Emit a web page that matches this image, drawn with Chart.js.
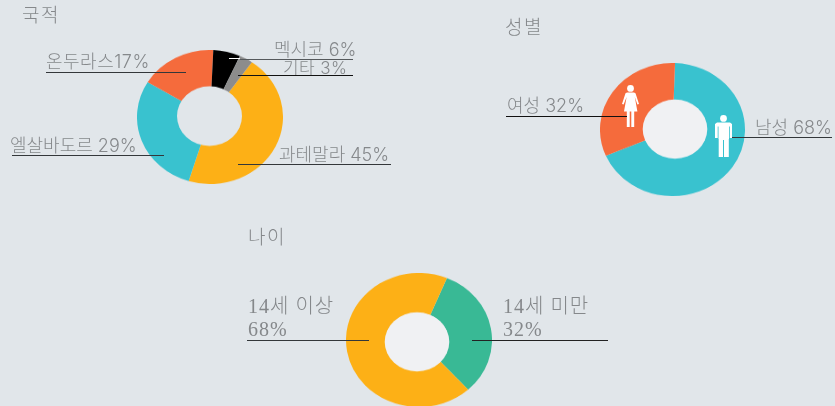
<!DOCTYPE html>
<html lang="ko">
<head>
<meta charset="utf-8">
<script src="https://cdn.jsdelivr.net/npm/chart.js@4"></script>
<style>
  html, body { margin: 0; padding: 0; width: 835px; height: 406px; overflow: hidden; background: #e1e6ea; }
  .donut { position: absolute; transform-origin: 0 0; transform: scaleY(0.918); }
  .txt { position: absolute; white-space: pre; color: #85888b; font: 300 18px/16px Inter, "Noto Sans CJK KR", sans-serif; filter: blur(0.3px); }
  .serif { font-family: "Liberation Serif", "Noto Sans CJK KR", serif; font-size: 20px; line-height: 23px; letter-spacing: 1px; }
  .title { font-size: 19px; letter-spacing: 1.5px; line-height: 22px; }
  .small { font-size: 17px; letter-spacing: 0.4px; }
  .wide { letter-spacing: 0.5px; }
  .line { position: absolute; height: 1.4px; background: #33373a; }
  svg { position: absolute; }
</style>
</head>
<body>
<div class="donut" style="left:137px;top:50px"><canvas id="nation" width="146" height="146"></canvas></div>
<div class="donut" style="left:600px;top:63px"><canvas id="gender" width="145" height="145"></canvas></div>
<div class="donut" style="left:346px;top:273px"><canvas id="age" width="146" height="146"></canvas></div>

<!-- woman -->
<svg style="left:622px;top:85px" width="17" height="42" viewBox="0 0 17 42" fill="#fff">
  <circle cx="8.5" cy="3.4" r="3.4"/>
  <path d="M5 7.5h7l1.5.8L17 19l-1.6.6-2.6-7.6 2.6 14.5H2L4.600 12 1.600 19.600 0 19l3.500-10.700z"/>
  <rect x="4.800" y="26" width="2.900" height="16"/><rect x="9.300" y="26" width="2.900" height="16"/>
</svg>
<!-- man -->
<svg style="left:715px;top:115px" width="17" height="42" viewBox="0 0 17 42" fill="#fff">
  <circle cx="8.500" cy="3.400" r="3.400"/>
  <path d="M2 7.500h13l2 1.500v14h-2.200V11.500h-.8V24h-.2v18H9V25H8v17H3.700V24H3.500V11.500h-.8V23H0V9z"/>
</svg>

<script>
const nationLabels = ["과테말라", "엘살바도르", "온두라스", "멕시코", "기타"];
const nationValues = [45, 29, 17, 6, 3];
const nationColors = ["#fdb016", "#39c2cf", "#f56b3c", "#000000", "#8c8c8c"];

const genderLabels = ["남성", "여성"];
const genderValues = [68, 32];
const genderColors = ["#39c2cf", "#f56b3c"];

const ageLabels = ["14세 미만", "14세 이상"];
const ageValues = [32, 68];
const ageColors = ["#39b995", "#fdb016"];

// Hole is drawn by hand since in the original it sits a bit off centre
const holePlugin = {
  id: "hole",
  afterDatasetsDraw(chart, args, opts) {
    const { ctx, width, height } = chart;
    ctx.save();
    ctx.fillStyle = opts.color;
    ctx.beginPath();
    ctx.arc(width / 2 + opts.dx, height / 2 + opts.dy, opts.r, 0, Math.PI * 2);
    ctx.fill();
    ctx.restore();
  }
};

function donut(id, labels, data, colors, rotation, hole) {
  return new Chart(document.getElementById(id), {
    type: "doughnut",
    data: { labels, datasets: [{ data, backgroundColor: colors, borderWidth: 0 }] },
    plugins: [holePlugin],
    options: {
      responsive: false,
      animation: false,
      rotation,
      cutout: "40%",
      layout: { padding: 0 },
      plugins: { legend: { display: false }, tooltip: { enabled: false }, hole }
    }
  });
}

donut("nation", nationLabels, nationValues, nationColors, 35, { color: "#e1e6ea", dx: -0.5, dy: -1, r: 32.5 });
donut("gender", genderLabels, genderValues, genderColors, 2, { color: "#f0f1f3", dx: 2.5, dy: -0.5, r: 32.3 });
donut("age", ageLabels, ageValues, ageColors, 22.5, { color: "#f0f1f3", dx: -2, dy: 2, r: 32.3 });

function text(str, left, top, cls) {
  const el = document.createElement("div");
  el.className = "txt " + (cls || "");
  el.textContent = str;
  el.style.left = left + "px";
  el.style.top = top + "px";
  document.body.appendChild(el);
}

function line(x1, x2, y, color) {
  const el = document.createElement("div");
  el.className = "line";
  el.style.left = x1 + "px";
  el.style.width = (x2 - x1) + "px";
  el.style.top = y + "px";
  if (color) el.style.background = color;
  document.body.appendChild(el);
}

text("국적", 22, 5, "title");
text("성별", 505, 17, "title");
text("나이", 248, 227, "title");

text(nationLabels[3] + " " + nationValues[3] + "%", 274, 42);
text(nationLabels[4] + " " + nationValues[4] + "%", 283, 60, "small");
text(nationLabels[2] + nationValues[2] + "%", 46, 54, "wide");
text(nationLabels[1] + " " + nationValues[1] + "%", 10, 138);
text(nationLabels[0] + " " + nationValues[0] + "%", 279, 147);
text(genderLabels[1] + " " + genderValues[1] + "%", 507, 98);
text(genderLabels[0] + " " + genderValues[0] + "%", 755, 120);
text(ageLabels[1] + "\n" + ageValues[1] + "%", 248, 295, "serif");
text(ageLabels[0] + "\n" + ageValues[0] + "%", 503, 295, "serif");

line(46, 186, 72);
line(12, 164, 155);
line(238, 391, 164);
line(229, 240, 58, "#ffffff");
line(240, 353, 58.500, "#55595c");
line(238, 353, 75, "#111111");
line(506, 627, 116, "#111111");
line(732, 832, 137);
line(247, 369, 340);
line(472, 608, 340, "#222222");
</script>
</body>
</html>
